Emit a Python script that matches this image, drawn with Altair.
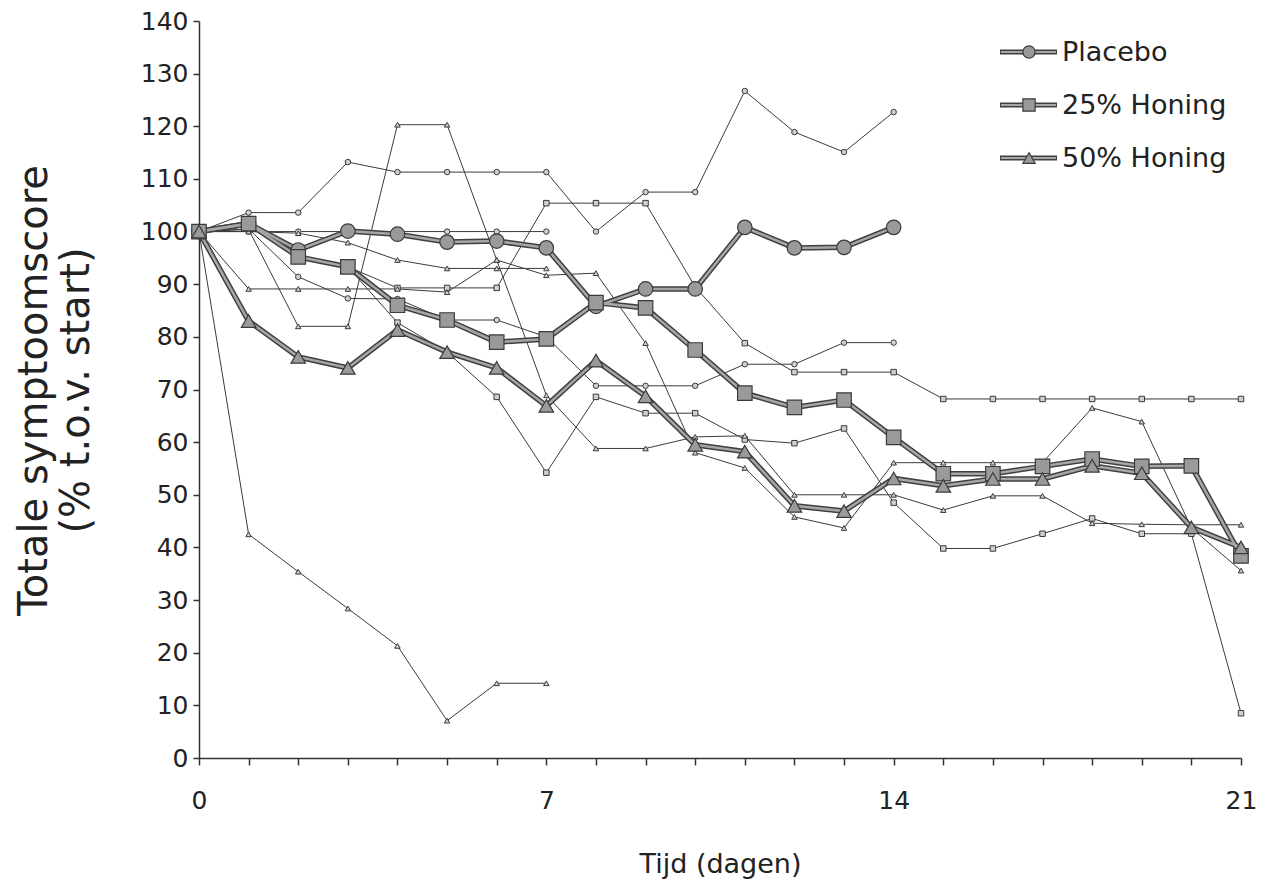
import altair as alt
import pandas as pd

# ---------------- data ----------------
groups = ["Placebo", "25% Honing", "50% Honing"]
group_shapes = ["circle", "square", "triangle-up"]
day_ticks = list(range(0, 22))
y_ticks = list(range(0, 141, 10))

# group means (bold lines), one value per day starting at day 0
placebo_mean = [100, 101.5, 96.5, 100.1, 99.5, 98.0, 98.2, 96.9, 85.8, 89.1, 89.1,
                100.8, 96.9, 97.0, 100.8]
honing25_mean = [100, 101.5, 95.2, 93.3, 86.0, 83.2, 79.0, 79.6, 86.5, 85.5, 77.5,
                 69.3, 66.6, 68.0, 60.9, 54.0, 54.0, 55.4, 56.8, 55.4, 55.5, 38.4]
honing50_mean = [100, 83.0, 76.2, 74.1, 81.3, 77.1, 74.1, 66.9, 75.5, 68.7, 59.5,
                 58.2, 47.9, 46.9, 53.1, 51.7, 53.0, 53.0, 55.5, 54.1, 43.8, 40.0]

# individual patients (thin lines)
placebo_p1 = [100, 103.6, 103.6, 113.2, 111.3, 111.3, 111.3, 111.3, 100.0, 107.5,
              107.5, 126.7, 118.9, 115.1, 122.7]
placebo_p2 = [100, 100, 100, 100, 100, 100, 100, 100]
placebo_p3 = [100, 100.5, 91.4, 87.3, 87.2, 83.2, 83.2, 80.0, 70.7, 70.7, 70.7,
              74.8, 74.8, 78.9, 78.9]

honing25_p1 = [100, 101.5, 95.0, 93.3, 89.3, 89.3, 89.3, 105.4, 105.4, 105.4, 89.5,
               78.8, 73.3, 73.3, 73.3, 68.2, 68.2, 68.2, 68.2, 68.2, 68.2, 68.2]
honing25_p2 = [100, 101.5, 95.0, 93.3, 82.7, 77.1, 68.6, 54.2, 68.6, 65.5, 65.5,
               60.5, 59.8, 62.6, 48.5, 39.8, 39.8, 42.6, 45.5, 42.6, 42.6, 8.5]

honing50_p1 = [100, 42.5, 35.4, 28.4, 21.3, 7.1, 14.2, 14.2]
honing50_p2 = [100, 100.4, 82.0, 82.0, 120.3, 120.3, 94.6, 68.9, 58.8, 58.8, 61.0,
               61.2, 50.0, 50.0, 50.0, 47.1, 49.8, 49.8, 44.6, 44.4, 44.3, 44.3]
honing50_p3 = [100, 89.1, 89.1, 89.1, 89.1, 88.5, 94.6, 91.7, 92.1, 78.8, 58.0,
               55.1, 45.8, 43.7, 56.1, 56.1, 56.1, 56.1, 66.5, 63.9, 43.7, 35.6]
honing50_p4 = [100, 100, 99.7, 97.9, 94.6, 93.0, 93.0, 93.0]

# ---------------- tables ----------------
means = {"Placebo": placebo_mean, "25% Honing": honing25_mean, "50% Honing": honing50_mean}
indiv = [
    ("P1", "Placebo", placebo_p1), ("P2", "Placebo", placebo_p2), ("P3", "Placebo", placebo_p3),
    ("S1", "25% Honing", honing25_p1), ("S2", "25% Honing", honing25_p2),
    ("T1", "50% Honing", honing50_p1), ("T2", "50% Honing", honing50_p2),
    ("T3", "50% Honing", honing50_p3), ("T4", "50% Honing", honing50_p4),
]
mean_df = pd.DataFrame([{"group": g, "day": d, "value": v}
                        for g, vals in means.items() for d, v in enumerate(vals)])
ind_df = pd.DataFrame([{"id": i, "group": g, "day": d, "value": v}
                       for i, g, vals in indiv for d, v in enumerate(vals)])

FONT = "DejaVu Sans"
INK = "#3a3a3a"
BOLD_EDGE = "#404040"
BOLD_CORE = "#a6a6a6"
MARK_FILL = "#9a9a9a"

x_enc = alt.X("day:Q",
              scale=alt.Scale(domain=[0, 21], nice=False, zero=False),
              axis=alt.Axis(values=day_ticks,
                            labelExpr="datum.value % 7 == 0 ? datum.label : ''",
                            title="Tijd (dagen)", tickSize=7, labelPadding=23,
                            titlePadding=38, labelFlush=False))
y_enc = alt.Y("value:Q",
              scale=alt.Scale(domain=[0, 140], nice=False),
              axis=alt.Axis(values=y_ticks,
                            title=["Totale symptoomscore", "(% t.o.v. start)"],
                            tickSize=6, labelPadding=5,
                            titleFontSize=40, titleLineHeight=42,
                            titleX=-165, titleY=369, titleAlign="center",
                            titleBaseline="middle", titleAngle=270))

shape_scale = alt.Scale(domain=groups, range=group_shapes)

thin_lines = alt.Chart(ind_df).mark_line(color=INK, strokeWidth=1).encode(
    x=x_enc, y=y_enc, detail="id:N")
thin_pts = alt.Chart(ind_df).mark_point(filled=True, fill="#d0d0d0", stroke=INK,
                                        strokeWidth=1, size=30, opacity=1).encode(
    x=x_enc, y=y_enc, shape=alt.Shape("group:N", scale=shape_scale, legend=None))

bold_outer = alt.Chart(mean_df).mark_line(color=BOLD_EDGE, strokeWidth=5.5).encode(
    x=x_enc, y=y_enc, detail="group:N")
bold_inner = alt.Chart(mean_df).mark_line(color=BOLD_CORE, strokeWidth=2.5).encode(
    x=x_enc, y=y_enc, detail="group:N")
bold_pts = alt.Chart(mean_df).mark_point(filled=True, fill=MARK_FILL, stroke=INK,
                                         strokeWidth=1.2, size=210, opacity=1).encode(
    x=x_enc, y=y_enc, shape=alt.Shape("group:N", scale=shape_scale, legend=None))

# ---------------- hand-made legend (top right, pixel layout) ----------------
legend_layers = []
row_y = [31, 84, 137]
for g, shp, ry in zip(groups, group_shapes, row_y):
    ldf = pd.DataFrame({"group": [g]})
    base = alt.Chart(ldf)
    legend_layers += [
        base.mark_rule(color=BOLD_EDGE, strokeWidth=5).encode(
            x=alt.value(801), x2=alt.value(858), y=alt.value(ry)),
        base.mark_rule(color=BOLD_CORE, strokeWidth=2).encode(
            x=alt.value(802), x2=alt.value(857), y=alt.value(ry)),
        base.mark_point(shape=shp, filled=True, fill=MARK_FILL, stroke=INK,
                        strokeWidth=1.2, size=150, opacity=1).encode(
            x=alt.value(830), y=alt.value(ry)),
        base.mark_text(align="left", baseline="middle", font=FONT, fontSize=27,
                       color="#222222").encode(
            x=alt.value(863), y=alt.value(ry + 1), text="group:N"),
    ]

chart = alt.layer(thin_lines, thin_pts, bold_outer, bold_inner, bold_pts,
                  *legend_layers).resolve_scale(
    shape="independent"
).properties(
    width=1042, height=737,
    autosize=alt.AutoSizeParams(type="none"),
    padding={"left": 191, "top": 13, "right": 16, "bottom": 126},
).configure_view(stroke=None).configure_axis(
    grid=False, labelFont=FONT, titleFont=FONT, labelFontSize=25, titleFontSize=27,
    titleFontWeight="normal", labelColor="#222222", titleColor="#222222",
    domainColor="#333333", tickColor="#333333", domainWidth=1.5, tickWidth=1.5,
)

chart.save("out.html", embed_options={"renderer": "svg", "actions": False})
